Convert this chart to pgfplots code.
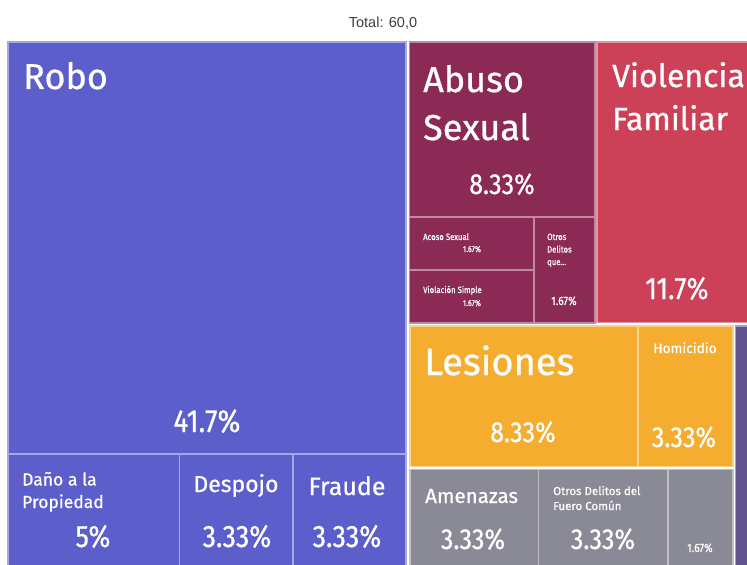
\documentclass[border=0pt]{standalone}
\usepackage{pgfplots}
\pgfplotsset{compat=1.18}
\usepackage{fontspec}
\setmainfont{Fira Sans}[FakeBold=0.7]
\newfontfamily\arialf{Liberation Sans}
\newfontfamily\cond[FakeStretch=0.86,FakeBold=0.7]{Fira Sans}
\definecolor{robo}{RGB}{91,94,203}
\definecolor{abuso}{RGB}{139,42,85}
\definecolor{viol}{RGB}{204,65,88}
\definecolor{lesi}{RGB}{244,173,46}
\definecolor{gris}{RGB}{138,138,150}
\definecolor{morado}{RGB}{95,84,144}
\newcommand{\rect}[5]{\addplot[fill=#1, draw=#1!55!white, line width=1.2bp, mark=none] coordinates {(#2,#4) (#3,#4) (#3,#5) (#2,#5)} -- cycle;}
\newcommand{\fs}[2]{\fontsize{#1bp}{#2bp}\selectfont}
\begin{document}
\begin{tikzpicture}
\begin{axis}[width=747bp,height=565bp,scale only axis,
  xmin=0,xmax=747,ymin=0,ymax=565,y dir=reverse,hide axis,clip=true]
\addplot[fill=white,draw=none,mark=none] coordinates {(0,0) (747,0) (747,565) (0,565)} -- cycle;
% Robo group
\rect{robo}{8}{406}{42}{454}
\rect{robo}{8}{179.5}{454}{570}
\rect{robo}{179.5}{293}{454}{570}
\rect{robo}{293}{406}{454}{570}
% Abuso group
\rect{abuso}{409.5}{595}{42}{217}
\rect{abuso}{409.5}{534}{217}{270}
\rect{abuso}{409.5}{534}{270}{323}
\rect{abuso}{534}{595}{217}{323}
% Violencia
\rect{viol}{597}{752}{42}{322.5}
% Lesiones group
\rect{lesi}{410}{638}{326}{466.5}
\rect{lesi}{638}{733}{326}{466.5}
% Gray group
\rect{gris}{410}{538.5}{469.5}{570}
\rect{gris}{538.5}{668}{469.5}{570}
\rect{gris}{668}{733}{469.5}{570}
% purple
\rect{morado}{735.5}{752}{326}{570}
% title
\node[anchor=base,text=black!75,font=\arialf\fs{14.5}{17}] at (axis cs:383,28) {Total: 60,0};
\begin{scope}[every node/.style={text=white,inner sep=0pt}]
\node[anchor=base west,font=\fs{36}{48}] at (axis cs:23,89) {Robo};
\node[anchor=base,font=\cond\fs{32}{40}] at (axis cs:207,432) {41.7\%};
\node[anchor=base west,font=\fs{17.5}{22.5}, align=left] at (axis cs:22,508) {Daño a la\\Propiedad};
\node[anchor=base,font=\cond\fs{31}{40}] at (axis cs:93,547) {5\%};
\node[anchor=base,font=\fs{23}{30}] at (axis cs:236,492) {Despojo};
\node[anchor=base,font=\cond\fs{31}{40}] at (axis cs:237,547) {3.33\%};
\node[anchor=base,font=\fs{25}{30}] at (axis cs:347,495) {Fraude};
\node[anchor=base,font=\cond\fs{31}{40}] at (axis cs:347,547) {3.33\%};
% Abuso
\node[anchor=base west,font=\fs{36}{48},align=left] at (axis cs:423,140) {Abuso\\Sexual};
\node[anchor=base,font=\cond\fs{29}{36}] at (axis cs:502,194) {8.33\%};
\node[anchor=base west,font=\cond\fs{9}{11}] at (axis cs:423,240) {Acoso Sexual};
\node[anchor=base,font=\cond\fs{8.5}{11}] at (axis cs:472,252) {1.67\%};
\node[anchor=base west,font=\cond\fs{9}{11}] at (axis cs:423,293) {Violación Simple};
\node[anchor=base,font=\cond\fs{8.5}{11}] at (axis cs:472,306) {1.67\%};
\node[anchor=base west,font=\cond\fs{9}{12.5},align=left] at (axis cs:547,265) {Otros\\Delitos\\que...};
\node[anchor=base,font=\cond\fs{12}{14}] at (axis cs:564,305) {1.67\%};
% Violencia
\node[anchor=base west,font=\fs{32}{43},align=left] at (axis cs:612,130) {Violencia\\Familiar};
\node[anchor=base,font=\cond\fs{31}{40}] at (axis cs:677,299) {11.7\%};
% Lesiones
\node[anchor=base west,font=\fs{38}{48}] at (axis cs:424,375) {Lesiones};
\node[anchor=base,font=\cond\fs{29}{36}] at (axis cs:523,442) {8.33\%};
\node[anchor=base,font=\fs{13.7}{16}] at (axis cs:685,353) {Homicidio};
\node[anchor=base,font=\cond\fs{29}{36}] at (axis cs:684,447) {3.33\%};
% Gray
\node[anchor=base west,font=\fs{20.5}{24}] at (axis cs:425,503) {Amenazas};
\node[anchor=base,font=\cond\fs{29}{36}] at (axis cs:473,549) {3.33\%};
\node[anchor=base west,font=\fs{11.5}{15},align=left] at (axis cs:553,510) {Otros Delitos del\\Fuero Común};
\node[anchor=base,font=\cond\fs{29}{36}] at (axis cs:603,549) {3.33\%};
\node[anchor=base,font=\cond\fs{12}{14}] at (axis cs:700,552) {1.67\%};
\end{scope}
\end{axis}
\end{tikzpicture}
\end{document}
